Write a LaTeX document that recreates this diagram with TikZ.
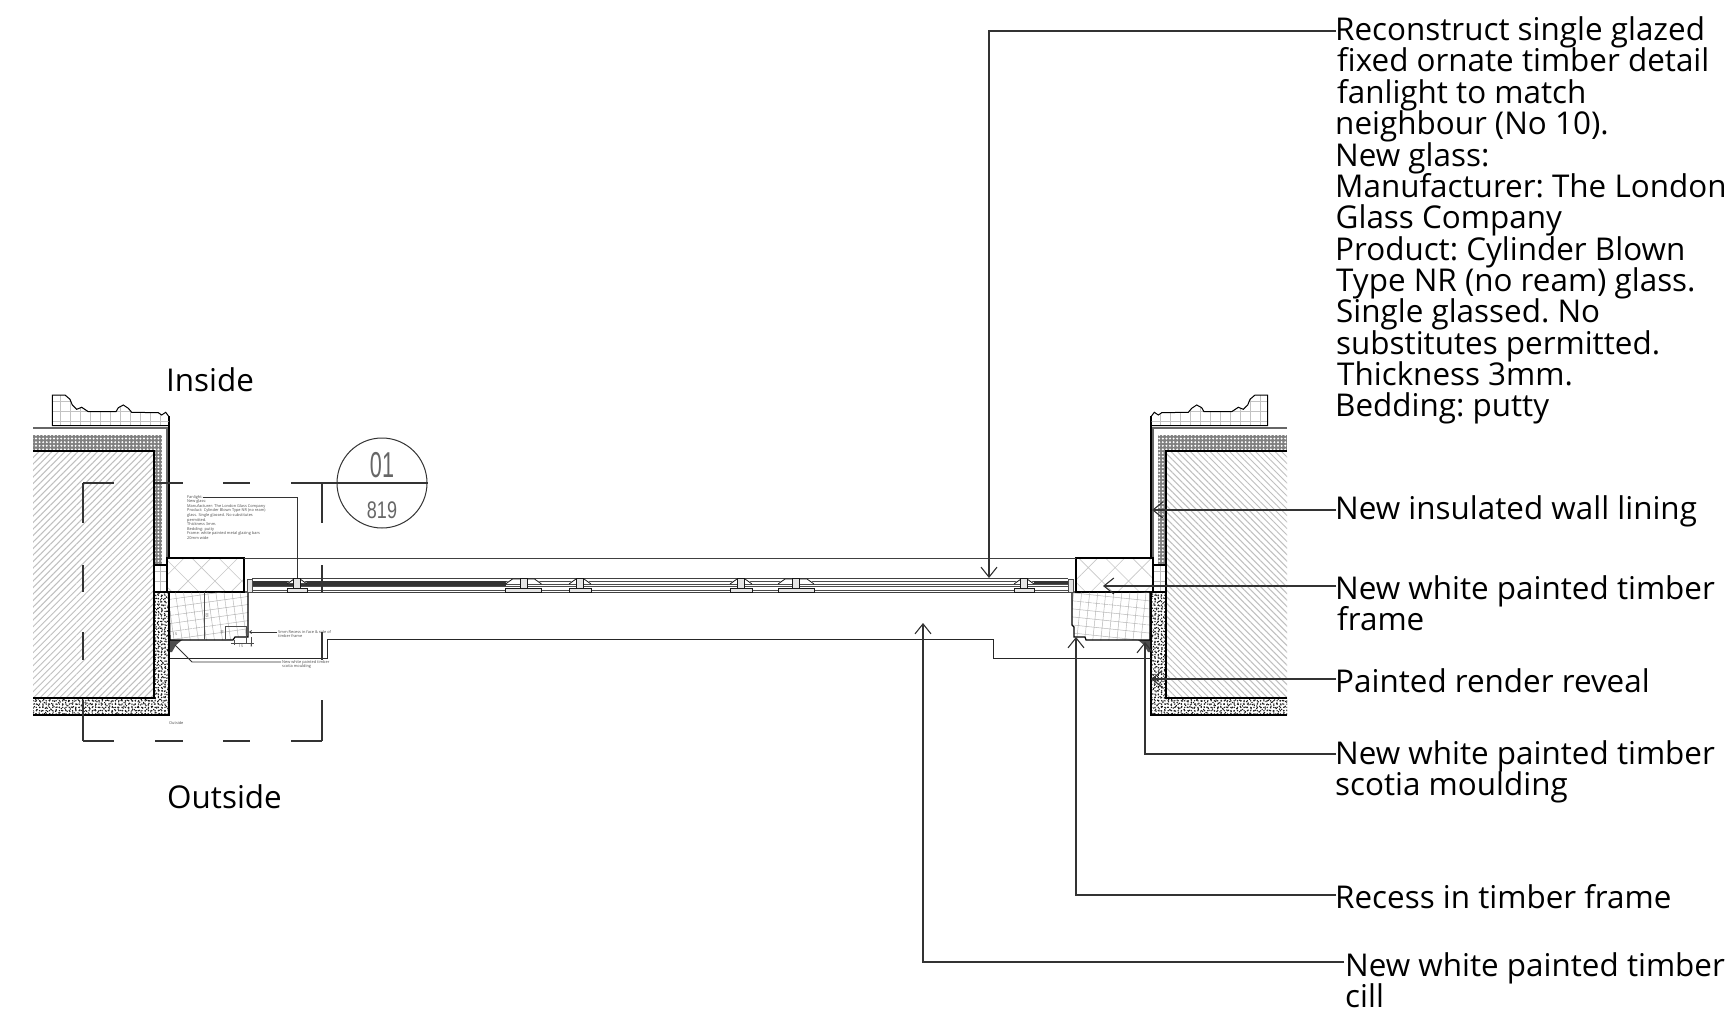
\documentclass[tikz,border=0pt]{standalone}
\usepackage{fontspec}
\setmainfont{Open Sans}
\newfontfamily\dimfont{Liberation Sans}
\usetikzlibrary{arrows.meta,patterns.meta}
\setlength{\lineskiplimit}{-100pt}
\setlength{\normallineskiplimit}{-100pt}
\tikzset{
  outline/.style={draw=black,line width=1.2pt},
  thinline/.style={draw=black!70,line width=0.7pt},
  leader/.style={draw=black!80,line width=1.1pt,-{Straight Barb[length=10pt,width=16pt]}},
  smallleader/.style={draw=black!80,line width=0.8pt},
  cutline/.style={draw=black!80,line width=1.2pt},
  calltext/.style={font=\frenchspacing\fontsize{31.4}{31.37}\selectfont,align=left,inner sep=0pt,anchor=north west},
  tinytext/.style={font=\fontsize{3.9}{4.6}\selectfont,align=left,inner sep=0pt,anchor=north west,text=black!70},
  dimtext/.style={font=\fontsize{3.6}{4}\selectfont,inner sep=0pt,text=black!70},
}
% one side of the opening, drawn on the left and mirrored for the right
\newcommand{\wallhalf}[1]{
  \fill[pattern={Lines[angle=#1,distance=4.6pt,line width=1pt]},pattern color=black!25] (33,451) rectangle (154,698);
  \fill[black!50] (33,435) rectangle (162,451);
  \fill[pattern={Dots[distance=3.6pt,radius=1.1pt]},pattern color=white] (33,435) rectangle (162,451);
  \fill[black!50] (154,451) rectangle (162,565);
  \fill[pattern={Dots[distance=3.6pt,radius=1.1pt]},pattern color=white] (154,451) rectangle (162,565);
  \fill[white] (33,698) rectangle (169,715) (154,592) rectangle (169,698);
  \foreach \dotangle/\dotdist in {0/3.3,37/3.9,71/4.5}{
    \fill[pattern={Dots[angle=\dotangle,distance=\dotdist pt,radius=0.8pt]},pattern color=black!90] (33,698) rectangle (169,715) (154,592) rectangle (169,698);
  }
  \draw[outline] (33,451) -- (154,451) -- (154,698) -- (33,698);
  \draw[outline] (33,715) -- (169,715) -- (169,592);
  \draw[outline] (154,592) -- (169,592);
  \draw[draw=black!60,line width=1.8pt] (33,428) -- (167,428) -- (167,558);
  \draw[outline] (169,416) -- (169,558);
  \fill[pattern={Hatch[distance=10pt,line width=0.5pt]},pattern color=black!25] (154,565) rectangle (167,592);
  \draw[outline] (154,565) rectangle (167,592);
  % moulding
  \path[outline,line width=1pt,pattern={Hatch[distance=10pt,line width=0.5pt]},pattern color=black!24] (52.3,395) -- (65,395) -- (70,399.3) -- (72.3,405) -- (76.7,409.3) -- (81.7,407.3) -- (88.3,411.7) -- (116,411.7) -- (118.3,407.7) -- (123.3,405) -- (128.3,408.3) -- (131.7,412.3) -- (158.3,412.7) -- (161.7,415) -- (165.7,412.3) -- (169,416.7) -- (169,425.7) -- (52.3,425.7) -- cycle;
  % frame head
  \path[outline,pattern={Hatch[angle=45,distance=19pt,line width=0.6pt]},pattern color=black!22] (167,558) rectangle (244,592);
  % scotia
  \fill[black!70] (170,640) -- (182,640) -- (176,645) -- (172,652) -- (170,652) -- cycle;
}
\begin{document}
\begin{tikzpicture}[x=1pt,y=-1pt]
\useasboundingbox (0,0) rectangle (1736,1011);
\fill[white] (0,0) rectangle (1736,1011);
\wallhalf{45}
\begin{scope}[xshift=1320pt,xscale=-1]
\wallhalf{135}
\end{scope}
% sub frames under the head
\path[outline,pattern={Hatch[angle=8,distance=8pt,line width=0.5pt]},pattern color=black!28] (169,592) -- (248,592) -- (248,637) -- (235,637) -- (233,640) -- (170,640) -- cycle;
\draw[thinline] (204,592) -- (204,640);
\path[outline,pattern={Hatch[angle=-6,distance=8pt,line width=0.5pt]},pattern color=black!28] (1150,592) -- (1072,592) -- (1072,625) -- (1074,627) -- (1074,637) -- (1085,637) -- (1086,640) -- (1150,640) -- cycle;
% recess setting out
\draw[thinline] (225,626) -- (246,626) -- (246,643);
\draw[thinline] (225,626) -- (225,640);
\draw[thinline] (234,640) -- (234,645);
\draw[thinline] (231,643) -- (254,643);
\draw[thinline] (251,637) -- (251,646);
\node[dimtext] (dimwidth) at (241,646.5) {15};
\node[dimtext] (dimside) at (251.5,646.5) {5};
\node[dimtext,rotate=90] (dimdepth) at (222,632) {10};
\node[dimtext,rotate=90] (dimframe) at (207,615) {60};
\node[dimtext] (dimscotia) at (175,634) {15};
% fanlight head and glass
\draw[draw=black!75,line width=1pt] (244,558) -- (1076,558);
\draw[draw=black!75,line width=1pt] (248,592) -- (1072,592);
\draw[thinline] (252,590) -- (1068,590);
\draw[draw=black!75,line width=1pt] (252,578.5) -- (1068,578.5);
\draw[thinline] (252,581) -- (1068,581);
\draw[thinline] (252,584) -- (1068,584);
\draw[thinline] (252,586) -- (1068,586);
\fill[black!80] (252,580.5) rectangle (506,585.5);
\fill[black!80] (1034,581) rectangle (1068,584);
% glazing bars
\foreach \barx/\barw in {297/10,523.5/18,580/11,741/11,796/18,1024/10}{
  \fill[white] (\barx-\barw+5,579.5) -- (\barx+\barw-5,579.5) -- (\barx+\barw,583) -- (\barx-\barw,583) -- cycle;
  \draw[draw=black!90,line width=0.8pt] (\barx-\barw,584) -- (\barx-\barw+7,579) -- (\barx+\barw-7,579) -- (\barx+\barw,584);
  \draw[draw=black!90,line width=0.9pt,fill=black!10] (\barx-\barw,588) rectangle (\barx+\barw,592);
  \draw[draw=black!90,line width=0.8pt,fill=black!10] (\barx-3.5,578.5) rectangle (\barx+3.5,588);
}
% beads at the jambs
\draw[thinline,fill=black!10] (247,579) rectangle (252,592);
\draw[thinline,fill=black!10] (1068,579) rectangle (1073,592);
% cill line
\coordinate (cillleft) at (170,658);
\coordinate (cillright) at (1151,658);
\draw[draw=black!85,line width=1pt] (cillleft) -- (327,658) -- (327,639) -- (993,639) -- (993,658) -- (cillright);
% section box
\draw[cutline,dash pattern=on 31pt off 41pt on 28pt off 40pt on 27pt off 41pt on 31pt] (83,483) -- (322,483);
\draw[cutline,dash pattern=on 31pt off 41pt on 28pt off 40pt on 27pt off 41pt on 31pt] (83,741) -- (322,741);
\draw[cutline,dash pattern=on 40pt off 42pt on 27pt off 40pt on 28pt off 40pt on 41pt] (83,483) -- (83,741);
\draw[cutline,dash pattern=on 40pt off 42pt on 27pt off 40pt on 28pt off 40pt on 41pt] (322,483) -- (322,741);
% section marker
\node[circle,draw=black!80,line width=1pt,minimum size=90pt,inner sep=0pt] (marker) at (382,483) {};
\coordinate (boxcorner) at (322,483);
\draw[cutline] (boxcorner) -- (marker.west);
\draw[cutline] (marker.west) -- (marker.east);
\node[font=\dimfont\fontsize{36}{36}\selectfont,text=black!60,inner sep=0pt] (markertop) at (382,465) {\scalebox{0.6}[1]{01}};
\node[font=\dimfont\fontsize{24}{24}\selectfont,text=black!60,inner sep=0pt] (markerbottom) at (382,510) {\scalebox{0.75}[1]{819}};
% tiny notes of the small detail
\node[tinytext] (fanlightnote) at (187,495) {Fanlight:\\New glass:\\Manufacturer: The London Glass Company\\Product: Cylinder Blown Type NR (no ream)\\glass. Single glassed. No substitutes\\permitted.\\Thickness 3mm.\\Bedding: putty\\Frame: white painted metal glazing bars\\20mm wide};
\coordinate (fanlightstart) at (203,497);
\coordinate (fanlighttip) at (297,578);
\draw[smallleader] (fanlightstart) -| (fanlighttip);
\node[tinytext] (recessnote) at (278,630) {5mm Recess in face \& side of\\timber frame};
\coordinate (recessstart) at (277,632);
\coordinate (recesstip) at (249,632);
\draw[smallleader,-{Straight Barb[length=2pt,width=3pt]}] (recessstart) -- (recesstip);
\node[tinytext] (scotianote) at (282,660) {New white painted timber\\scotia moulding};
\coordinate (scotiastart) at (281,662);
\coordinate (scotiabend) at (192,662);
\coordinate (scotiatip) at (175,645);
\draw[smallleader] (scotiastart) -- (scotiabend) -- (scotiatip);
\node[tinytext] (outsidenote) at (169,721) {Outside};
% big labels
\node[calltext] (insidelabel) at (166,367.5) {Inside};
\node[calltext] (outsidelabel) at (167,784.5) {Outside};
\node[calltext] (glasslabel) at (1335,16.5) {Reconstruct single glazed\\\hspace*{2pt}fixed ornate timber detail\\\hspace*{2pt}fanlight to match\\neighbour (No 10).\\New glass:\\Manufacturer: The London\\\hspace*{0.5pt}Glass Company\\Product: Cylinder Blown\\\hspace*{1pt}Type NR (no ream) glass.\\\hspace*{1pt}Single glassed. No\\\hspace*{1pt}substitutes permitted.\\\hspace*{2pt}Thickness 3mm.\\Bedding: putty};
\node[calltext] (lininglabel) at (1335,495.5) {New insulated wall lining};
\node[calltext] (framelabel) at (1335,575) {New white painted timber\\\hspace*{2pt}frame};
\node[calltext] (renderlabel) at (1335,668.5) {Painted render reveal};
\node[calltext] (scotialabel) at (1335,740.5) {New white painted timber\\scotia moulding};
\node[calltext] (recesslabel) at (1335,884.5) {Recess in timber frame};
\node[calltext] (cilllabel) at (1345,952) {New white painted timber\\cill};
% leaders
\coordinate (glassstart) at (1336,31);
\coordinate (glasstip) at (989,578);
\draw[leader] (glassstart) -| (glasstip);
\coordinate (liningstart) at (1336,510);
\coordinate (liningtip) at (1152,510);
\draw[leader] (liningstart) -- (liningtip);
\coordinate (framestart) at (1336,586);
\coordinate (frametip) at (1103,586);
\draw[leader] (framestart) -- (frametip);
\coordinate (renderstart) at (1336,679);
\coordinate (rendertip) at (1151,679);
\draw[leader] (renderstart) -- (rendertip);
\coordinate (mouldingstart) at (1336,754);
\coordinate (mouldingtip) at (1145,642);
\draw[leader] (mouldingstart) -| (mouldingtip);
\coordinate (rebatestart) at (1336,895);
\coordinate (rebatetip) at (1076,637);
\draw[leader] (rebatestart) -| (rebatetip);
\coordinate (cillstart) at (1344,962);
\coordinate (cilltip) at (923,623);
\draw[leader] (cillstart) -| (cilltip);
\end{tikzpicture}
\end{document}
